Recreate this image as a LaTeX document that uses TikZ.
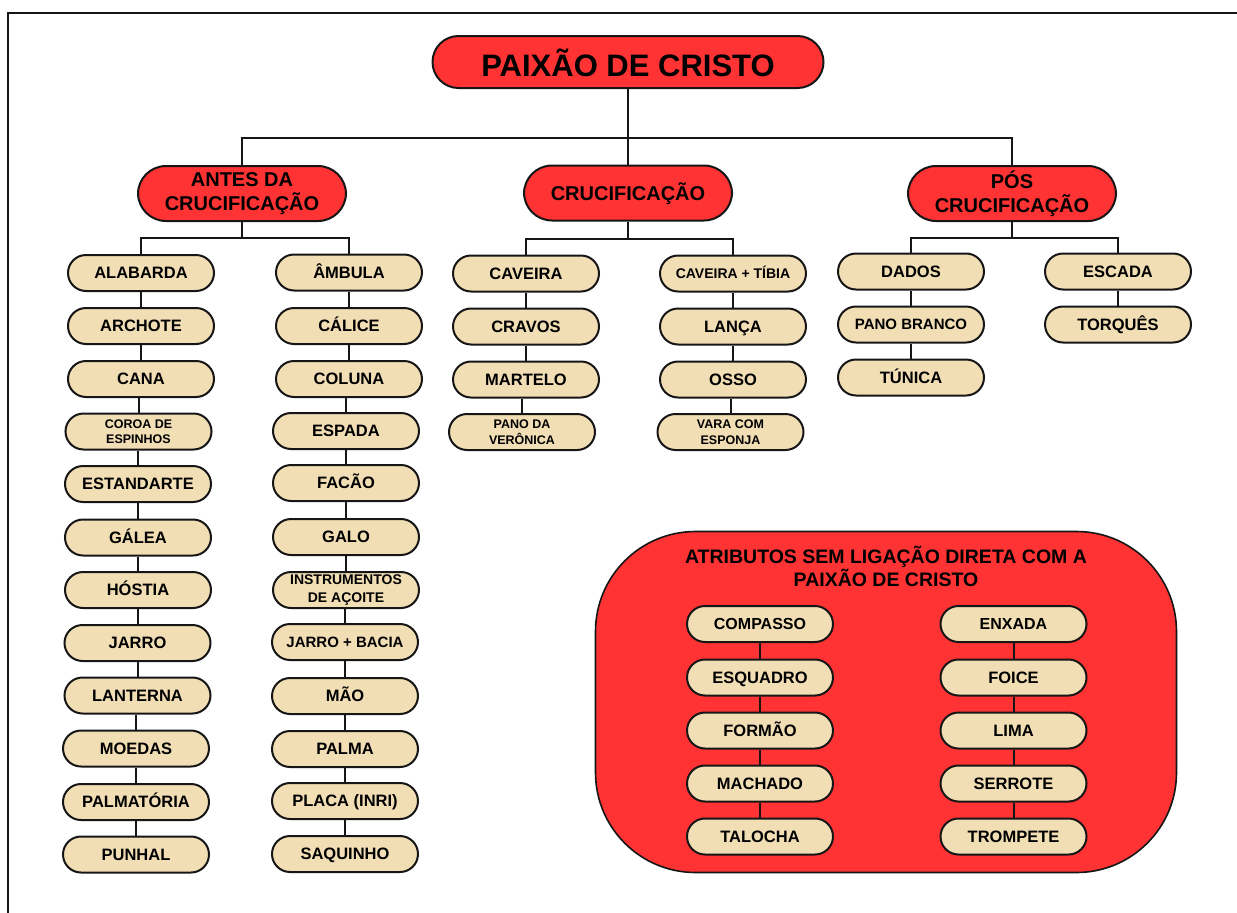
\documentclass[tikz,border=0pt]{standalone}
\usepackage{fontspec}
\setmainfont{Liberation Sans}
\definecolor{redfill}{HTML}{FF3333}
\definecolor{beige}{HTML}{F2DEB5}
\definecolor{ink}{HTML}{161616}
\tikzset{
  box/.style={draw=ink, line width=2pt, align=center, inner sep=0pt},
  leafbase/.style={box, fill=beige, rounded corners=18pt, minimum width=146pt, minimum height=36pt},
  leaf/.style={leafbase, font=\bfseries\fontsize{16.5}{19}\selectfont, text height=11.8pt, text depth=0pt},
  leafmid/.style={leafbase, font=\bfseries\fontsize{15}{17}\selectfont, text height=10.7pt, text depth=0pt},
  leafsm/.style={leafbase, font=\bfseries\fontsize{14}{17}\selectfont, text height=10pt, text depth=0pt},
  leaftwo/.style={leafbase, font=\bfseries\fontsize{12.5}{15.5}\selectfont},
  leaftwomid/.style={leafbase, font=\bfseries\fontsize{14}{17.5}\selectfont},
  catnode/.style={box, fill=redfill, rounded corners=28pt, minimum width=208pt, minimum height=55pt, font=\bfseries\fontsize{20}{23.5}\selectfont},
  rootnode/.style={box, fill=redfill, rounded corners=26pt, minimum width=391pt, minimum height=52pt, font=\bfseries\fontsize{31}{36}\selectfont, text height=29pt, text depth=0pt},
  conn/.style={draw=ink, line width=2pt},
}
\begin{document}
\begin{tikzpicture}[x=1pt, y=-1pt]
\useasboundingbox (0,0) rectangle (1237,913);
\fill[white] (0,0) rectangle (1237,913);
\draw[line width=2.5pt, ink] (8,913) -- (8,13) -- (1238,13);

% root and categories
\node[rootnode] (root) at (628,62) {PAIXÃO DE CRISTO};
\node[catnode] (antes) at (242,193.5) {ANTES DA\\CRUCIFICAÇÃO};
\node[catnode, text height=14.3pt, text depth=0pt] (cruc) at (628,193) {CRUCIFICAÇÃO};
\node[catnode] (pos) at (1012,193.5) {PÓS\\CRUCIFICAÇÃO};
\coordinate (rootbus) at (628,138);
\draw[conn] (root.south) -- (rootbus);
\draw[conn] (antes.north) |- (rootbus) -| (pos.north);
\draw[conn] (rootbus) -- (cruc.north);

% ANTES DA CRUCIFICACAO - left column
\node[leaf] (aL1) at (141,273) {ALABARDA};
\node[leaf] (aL2) at (141,326) {ARCHOTE};
\node[leaf] (aL3) at (141,379) {CANA};
\node[leaftwo] (aL4) at (138.5,431.5) {COROA DE\\ESPINHOS};
\node[leaf] (aL5) at (138,484) {ESTANDARTE};
\node[leaf] (aL6) at (138,537.5) {GÁLEA};
\node[leaf] (aL7) at (138,590) {HÓSTIA};
\node[leaf] (aL8) at (137.5,643) {JARRO};
\node[leaf] (aL9) at (137.5,695.5) {LANTERNA};
\node[leaf] (aL10) at (136,748.5) {MOEDAS};
\node[leaf] (aL11) at (136,802) {PALMATÓRIA};
\node[leaf] (aL12) at (136,854.5) {PUNHAL};
% right column
\node[leaf] (aR1) at (349,272.5) {ÂMBULA};
\node[leaf] (aR2) at (349,326) {CÁLICE};
\node[leaf] (aR3) at (349,379) {COLUNA};
\node[leaf] (aR4) at (346,431) {ESPADA};
\node[leaf] (aR5) at (346,483) {FACÃO};
\node[leaf] (aR6) at (346,537) {GALO};
\node[leaftwomid] (aR7) at (346,590) {INSTRUMENTOS\\DE AÇOITE};
\node[leafmid] (aR8) at (345,642) {JARRO + BACIA};
\node[leaf] (aR9) at (345,696) {MÃO};
\node[leaf] (aR10) at (345,749) {PALMA};
\node[leaf] (aR11) at (345,801) {PLACA (INRI)};
\node[leaf] (aR12) at (345,854) {SAQUINHO};
\coordinate (antesbus) at (242,238);
\draw[conn] (antes.south) -- (antesbus);
\draw[conn] (aL1.north) |- (antesbus) -| (aR1.north);
\foreach \a/\b in {1/2,2/3,3/4,4/5,5/6,6/7,7/8,8/9,9/10,10/11,11/12}{
  \draw[conn] (aL\b.north |- aL\a.south) -- (aL\b.north);
  \draw[conn] (aR\b.north |- aR\a.south) -- (aR\b.north);
}

% CRUCIFICACAO
\node[leaf] (cL1) at (526,273.5) {CAVEIRA};
\node[leaf] (cL2) at (526,326.5) {CRAVOS};
\node[leaf] (cL3) at (526,379.5) {MARTELO};
\node[leaftwo] (cL4) at (522,432) {PANO DA\\VERÔNICA};
\node[leafsm] (cR1) at (733,273.5) {CAVEIRA + TÍBIA};
\node[leaf] (cR2) at (733,326.5) {LANÇA};
\node[leaf] (cR3) at (733,379.5) {OSSO};
\node[leaftwo] (cR4) at (730.5,432) {VARA COM\\ESPONJA};
\coordinate (crucbus) at (628,239);
\draw[conn] (cruc.south) -- (crucbus);
\draw[conn] (cL1.north) |- (crucbus) -| (cR1.north);
\foreach \a/\b in {1/2,2/3,3/4}{
  \draw[conn] (cL\b.north |- cL\a.south) -- (cL\b.north);
  \draw[conn] (cR\b.north |- cR\a.south) -- (cR\b.north);
}

% POS CRUCIFICACAO
\node[leaf] (pL1) at (911,271.5) {DADOS};
\node[leafmid] (pL2) at (911,324.5) {PANO BRANCO};
\node[leaf] (pL3) at (911,377.5) {TÚNICA};
\node[leaf] (pR1) at (1118,271.5) {ESCADA};
\node[leaf] (pR2) at (1118,324.5) {TORQUÊS};
\coordinate (posbus) at (1012,238);
\draw[conn] (pos.south) -- (posbus);
\draw[conn] (pL1.north) |- (posbus) -| (pR1.north);
\draw[conn] (pL1.south) -- (pL2.north);
\draw[conn] (pL2.south) -- (pL3.north);
\draw[conn] (pR1.south) -- (pR2.north);

% Atributos sem ligacao
\node[box, line width=1.6pt, fill=redfill, rounded corners=100pt, minimum width=581pt, minimum height=341pt] (extra) at (886,702) {};
\node[font=\bfseries\fontsize{19.5}{23}\selectfont, align=center, inner sep=0pt] (extratitle) at (886,566) {ATRIBUTOS SEM LIGAÇÃO DIRETA COM A\\PAIXÃO DE CRISTO};
\node[leaf, font=\bfseries\fontsize{16}{19}\selectfont] (eL1) at (760,624) {COMPASSO};
\node[leaf] (eL2) at (760,677.5) {ESQUADRO};
\node[leaf] (eL3) at (760,730.5) {FORMÃO};
\node[leaf] (eL4) at (760,783.5) {MACHADO};
\node[leaf] (eL5) at (760,836.5) {TALOCHA};
\node[leaf, font=\bfseries\fontsize{16}{19}\selectfont] (eR1) at (1013.5,624) {ENXADA};
\node[leaf] (eR2) at (1013.5,677.5) {FOICE};
\node[leaf] (eR3) at (1013.5,730.5) {LIMA};
\node[leaf] (eR4) at (1013.5,783.5) {SERROTE};
\node[leaf] (eR5) at (1013.5,836.5) {TROMPETE};
\foreach \a/\b in {1/2,2/3,3/4,4/5}{
  \draw[conn] (eL\a.south) -- (eL\b.north);
  \draw[conn] (eR\a.south) -- (eR\b.north);
}
\end{tikzpicture}
\end{document}
